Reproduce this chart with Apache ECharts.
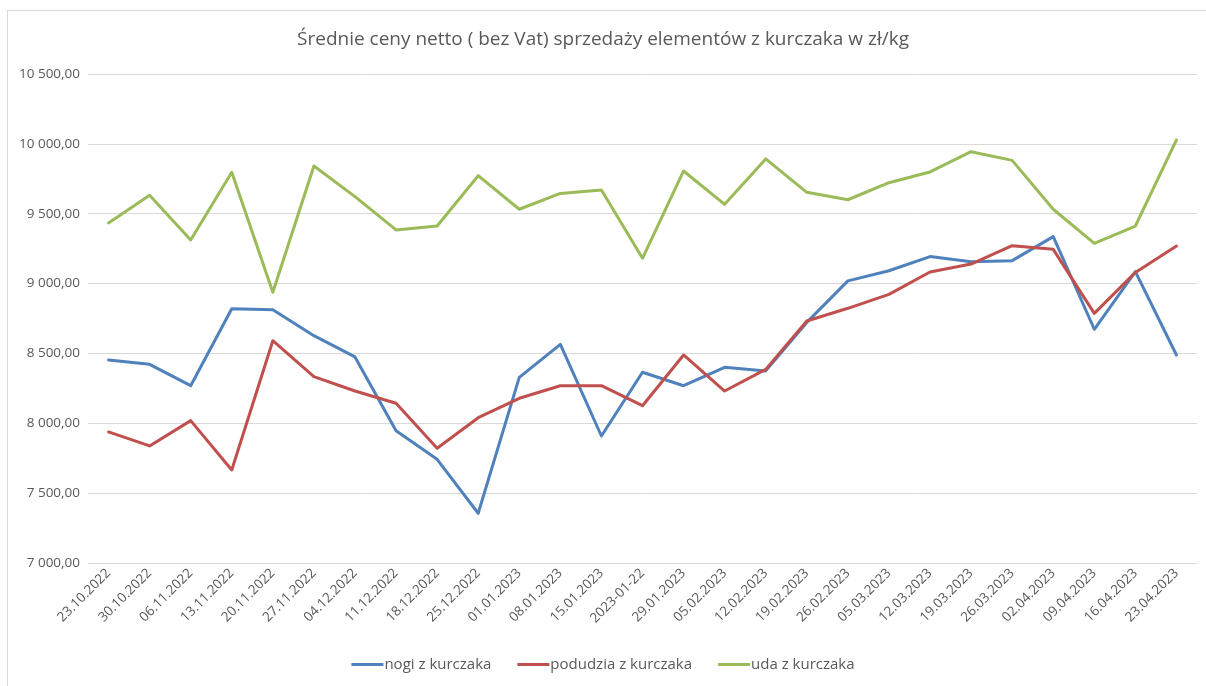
<!DOCTYPE html>
<html>
<head>
<meta charset="utf-8">
<script src="https://cdn.jsdelivr.net/npm/echarts@6/dist/echarts.min.js"></script>
<style>
html, body { margin: 0; padding: 0; background: #fff; }
#frame { position: absolute; left: 7px; top: 10px; width: 1199px; height: 676px;
         border-top: 1px solid #d9d9d9; border-left: 1px solid #d9d9d9; }
#chart { position: absolute; left: 0; top: 0; width: 1206px; height: 686px; }
</style>
</head>
<body>
<div id="frame"></div>
<div id="chart"></div>
<script>
// dates of the weekly readings
const dates = ['23.10.2022', '30.10.2022', '06.11.2022', '13.11.2022', '20.11.2022', '27.11.2022',
    '04.12.2022', '11.12.2022', '18.12.2022', '25.12.2022', '01.01.2023', '08.01.2023', '15.01.2023',
    '2023-01-22', '29.01.2023', '05.02.2023', '12.02.2023', '19.02.2023', '26.02.2023', '05.03.2023',
    '12.03.2023', '19.03.2023', '26.03.2023', '02.04.2023', '09.04.2023', '16.04.2023', '23.04.2023'];

// prices zl/kg (net)
const nogi = [8453, 8422, 8269, 8820, 8813, 8627, 8475, 7947, 7742, 7356, 8329, 8565, 7909,
    8365, 8269, 8401, 8375, 8722, 9019, 9092, 9193, 9157, 9164, 9336, 8673, 9085, 8489];
const podudzia = [7938, 7838, 8019, 7666, 8591, 8334, 8231, 8143, 7821, 8040, 8179, 8269, 8269,
    8126, 8489, 8231, 8386, 8732, 8823, 8923, 9083, 9140, 9271, 9245, 8787, 9080, 9269];
const uda = [9434, 9632, 9312, 9797, 8938, 9842, 9622, 9384, 9412, 9772, 9532, 9645, 9670,
    9181, 9806, 9567, 9892, 9653, 9600, 9722, 9799, 9944, 9882, 9532, 9288, 9412, 10028];

const seriesNames = ['nogi z kurczaka', 'podudzia z kurczaka', 'uda z kurczaka'];
const colors = ['#4f81bd', '#c0504d', '#9bbb59'];

function plNum(v) {
    let s = Math.round(v).toString();
    s = s.replace(/\B(?=(\d{3})+(?!\d))/g, ' ');
    return s + ',00';
}

const FONT = '"Open Sans", "Noto Sans", sans-serif';
var chart = echarts.init(document.getElementById('chart'));

function line(name, data, color) {
    return {
        name: name,
        type: 'line',
        data: data,
        symbol: 'none',
        smooth: false,
        lineStyle: { width: 3, color: color, cap: 'round', join: 'round' },
        itemStyle: { color: color },
        z: 3
    };
}

chart.setOption({
    animation: false,
    title: {
        text: 'Średnie ceny netto ( bez Vat) sprzedaży elementów z kurczaka w zł/kg',
        left: 'center',
        top: 25,
        textStyle: { fontFamily: FONT, fontSize: 19, fontWeight: 'normal', color: '#595959' }
    },
    legend: {
        data: seriesNames,
        bottom: 9,
        left: 'center',
        itemWidth: 32,
        itemHeight: 3,
        itemGap: 26,
        icon: 'rect',
        textStyle: { fontFamily: FONT, fontSize: 15, color: '#595959', padding: [0, 0, 0, -4] }
    },
    grid: { left: 88, right: 9, top: 74, bottom: 123, containLabel: false },
    xAxis: {
        type: 'category',
        data: dates,
        boundaryGap: true,
        axisLine: { show: false },
        axisTick: { show: false },
        axisLabel: {
            interval: 0,
            rotate: 45,
            margin: 8,
            fontFamily: FONT,
            fontSize: 13.5,
            color: '#595959'
        }
    },
    yAxis: {
        type: 'value',
        min: 7000,
        max: 10500,
        interval: 500,
        axisLine: { show: false },
        axisTick: { show: false },
        splitLine: { lineStyle: { color: '#d9d9d9', width: 1 } },
        axisLabel: {
            formatter: plNum,
            margin: 8,
            fontFamily: FONT,
            fontSize: 13.5,
            color: '#595959'
        }
    },
    series: [
        line(seriesNames[0], nogi, colors[0]),
        line(seriesNames[1], podudzia, colors[1]),
        line(seriesNames[2], uda, colors[2])
    ]
});
</script>
</body>
</html>
